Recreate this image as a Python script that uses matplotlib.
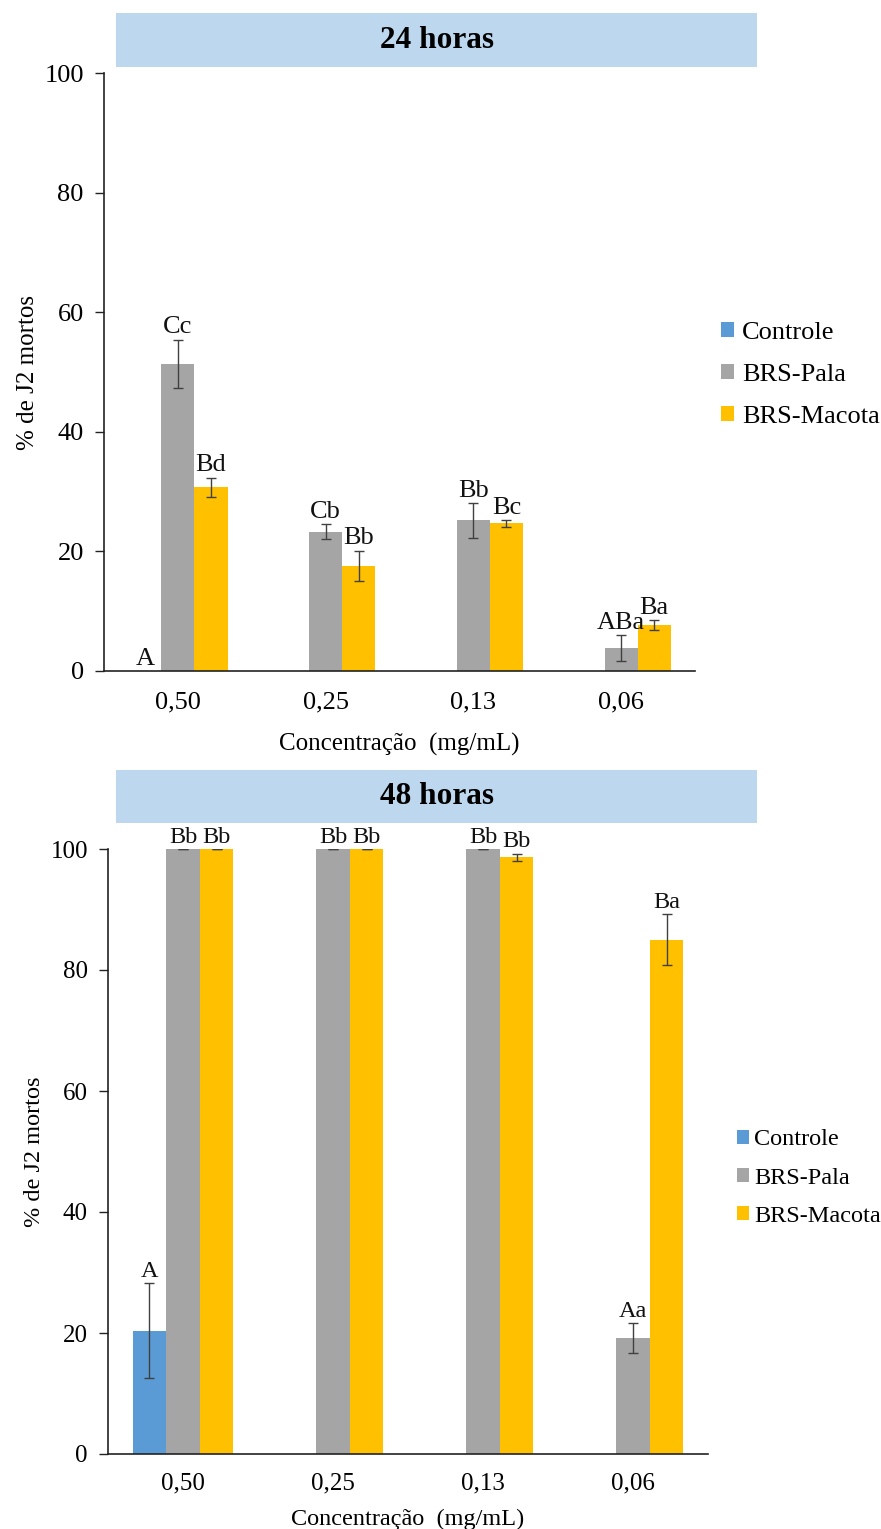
import numpy as np
import matplotlib
matplotlib.use('Agg')
import matplotlib.pyplot as plt
from matplotlib.patches import Patch, Rectangle

plt.rcParams['font.family'] = ['Liberation Serif', 'DejaVu Serif']

# categories and series
concentracoes = ['0,50', '0,25', '0,13', '0,06']
series_names = ['Controle', 'BRS-Pala', 'BRS-Macota']
series_colors = ['#5B9BD5', '#A5A5A5', '#FFC000']

# 24 horas
h24_controle = [0.0, np.nan, np.nan, np.nan]
h24_controle_err = [np.nan, np.nan, np.nan, np.nan]
h24_controle_lbl = ['A', '', '', '']
h24_pala = [51.4, 23.3, 25.2, 3.8]
h24_pala_err = [4.0, 1.2, 2.9, 2.2]
h24_pala_lbl = ['Cc', 'Cb', 'Bb', 'ABa']
h24_macota = [30.7, 17.6, 24.7, 7.7]
h24_macota_err = [1.6, 2.5, 0.55, 0.8]
h24_macota_lbl = ['Bd', 'Bb', 'Bc', 'Ba']

# 48 horas
h48_controle = [20.4, np.nan, np.nan, np.nan]
h48_controle_err = [7.8, np.nan, np.nan, np.nan]
h48_controle_lbl = ['A', '', '', '']
h48_pala = [100.0, 100.0, 100.0, 19.2]
h48_pala_err = [0.0, 0.0, 0.0, 2.45]
h48_pala_lbl = ['Bb', 'Bb', 'Bb', 'Aa']
h48_macota = [100.0, 100.0, 98.6, 85.0]
h48_macota_err = [0.0, 0.0, 0.65, 4.2]
h48_macota_lbl = ['Bb', 'Bb', 'Bb', 'Ba']

W, H = 881, 1529


def fig_rect(x0, y0, x1, y1):
    """pixel box (top-left origin) -> figure fraction [l, b, w, h]"""
    return [x0 / W, 1 - y1 / H, (x1 - x0) / W, (y1 - y0) / H]


def plot_panel(fig, box, title_box, title, data, fs, ann_fs, lab_fs, pads,
               legend_pos, leg_fs, leg_space, leg_textpad):
    ax = fig.add_axes(fig_rect(*box))
    x = np.arange(len(concentracoes))
    bw = 0.224

    for k, (vals, errs, lbls) in enumerate(data):
        xs = x + (k - 1) * bw
        vals = np.array(vals, dtype=float)
        errs = np.array(errs, dtype=float)
        ok = np.isfinite(vals)
        ax.bar(xs[ok], vals[ok], bw, color=series_colors[k], zorder=2)
        ek = ok & np.isfinite(errs)
        ax.errorbar(xs[ek], vals[ek], yerr=errs[ek], fmt='none', ecolor='#404040',
                    elinewidth=1, capsize=3.5, capthick=1, zorder=3)
        for i in range(len(vals)):
            if not ok[i] or lbls[i] == '':
                continue
            top = vals[i] + (errs[i] if np.isfinite(errs[i]) else 0)
            ax.annotate(lbls[i], (xs[i], top), xytext=(0, 1), textcoords='offset points',
                        ha='center', va='bottom', fontsize=ann_fs, color='#111111')

    ax.set_xlim(-0.5, len(concentracoes) - 0.5)
    ax.set_ylim(0, 100)
    ax.set_yticks(range(0, 101, 20))
    ax.set_xticks(x)
    ax.set_xticklabels(concentracoes)
    ax.tick_params(axis='x', length=0, pad=pads[0], labelsize=fs)
    ax.tick_params(axis='y', length=6.5, width=1, pad=8, labelsize=fs, color='#222222')
    for s in ['top', 'right']:
        ax.spines[s].set_visible(False)
    for s in ['left', 'bottom']:
        ax.spines[s].set_color('#222222')
        ax.spines[s].set_linewidth(1.2)
    ax.set_xlabel('Concentração  (mg/mL)', fontsize=lab_fs, labelpad=pads[1])
    ax.set_ylabel('% de J2 mortos', fontsize=lab_fs, labelpad=pads[2])

    # title bar
    l, b, w, h = fig_rect(*title_box)
    fig.add_artist(Rectangle((l, b), w, h, transform=fig.transFigure,
                             facecolor='#BDD7EE', edgecolor='none'))
    fig.text(l + w / 2, b + h / 2, title, ha='center', va='center',
             fontsize=22.5, fontweight='bold')

    # legend
    handles = [Patch(facecolor=c, edgecolor='none') for c in series_colors]
    fig.legend(handles, series_names, loc='center left',
               bbox_to_anchor=(legend_pos[0] / W, 1 - legend_pos[1] / H),
               frameon=False, fontsize=leg_fs, handlelength=0.5, handleheight=0.5,
               handletextpad=leg_textpad, labelspacing=leg_space, borderpad=0,
               borderaxespad=0)
    return ax


fig = plt.figure(figsize=(W / 100, H / 100), dpi=100)

plot_panel(fig, (104, 73, 695, 671), (116, 13, 757, 67), '24 horas',
           [(h24_controle, h24_controle_err, h24_controle_lbl),
            (h24_pala, h24_pala_err, h24_pala_lbl),
            (h24_macota, h24_macota_err, h24_macota_lbl)],
           19, 19, 18, (15, 13.5, 4),
           (721, 375), 19, 0.75, 0.3)

plot_panel(fig, (108, 849, 708, 1454), (116, 770, 757, 823), '48 horas',
           [(h48_controle, h48_controle_err, h48_controle_lbl),
            (h48_pala, h48_pala_err, h48_pala_lbl),
            (h48_macota, h48_macota_err, h48_macota_lbl)],
           18, 17.5, 17.5, (13.5, 10, 4),
           (737, 1178), 17.5, 0.7, 0.2)

fig.savefig('out.png', dpi=100)
